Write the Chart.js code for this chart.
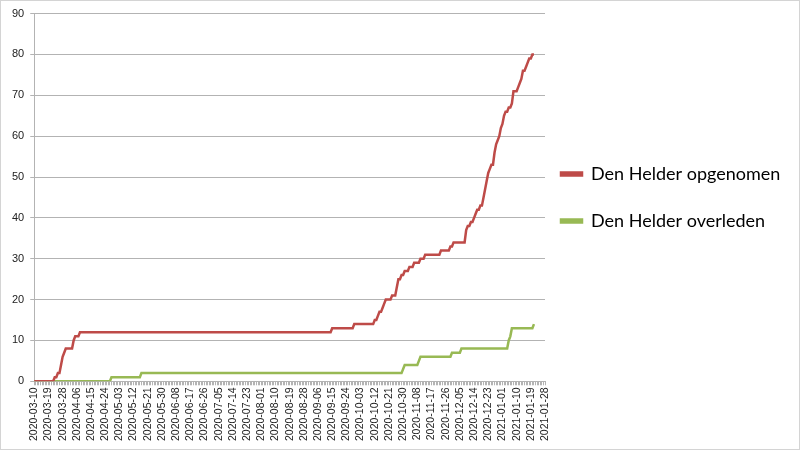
<!DOCTYPE html>
<html>
<head>
<meta charset="utf-8">
<script src="https://cdn.jsdelivr.net/npm/chart.js@4/dist/chart.umd.min.js"></script>
<style>
  html, body { margin: 0; padding: 0; background: #fff; }
  #wrap { width: 800px; height: 450px; box-sizing: border-box; border: 1px solid #d4d4d4; }
</style>
</head>
<body>
<div id="wrap"><canvas id="chart"></canvas></div>
<script>
// first and last day of the category axis
const firstDay = '2020-03-10';
const lastDay = '2021-01-28';

// labels that are printed under the axis (every 9th day)
const tickLabels = [
  '2020-03-10', '2020-03-19', '2020-03-28', '2020-04-06', '2020-04-15', '2020-04-24',
  '2020-05-03', '2020-05-12', '2020-05-21', '2020-05-30', '2020-06-08', '2020-06-17',
  '2020-06-26', '2020-07-05', '2020-07-14', '2020-07-23', '2020-08-01', '2020-08-10',
  '2020-08-19', '2020-08-28', '2020-09-06', '2020-09-15', '2020-09-24', '2020-10-03',
  '2020-10-12', '2020-10-21', '2020-10-30', '2020-11-08', '2020-11-17', '2020-11-26',
  '2020-12-05', '2020-12-14', '2020-12-23', '2021-01-01', '2021-01-10', '2021-01-19',
  '2021-01-28'
];

// cumulative counts per day, starting 2020-03-10 (10 values per row)
const opgenomen = [
  0, 0, 0, 0, 0, 0, 0, 0, 0, 0,
  0, 0, 0, 1, 1, 2, 2, 4, 6, 7,
  8, 8, 8, 8, 8, 10, 11, 11, 11, 12,
  12, 12, 12, 12, 12, 12, 12, 12, 12, 12,
  12, 12, 12, 12, 12, 12, 12, 12, 12, 12,
  12, 12, 12, 12, 12, 12, 12, 12, 12, 12,
  12, 12, 12, 12, 12, 12, 12, 12, 12, 12,
  12, 12, 12, 12, 12, 12, 12, 12, 12, 12,
  12, 12, 12, 12, 12, 12, 12, 12, 12, 12,
  12, 12, 12, 12, 12, 12, 12, 12, 12, 12,
  12, 12, 12, 12, 12, 12, 12, 12, 12, 12,
  12, 12, 12, 12, 12, 12, 12, 12, 12, 12,
  12, 12, 12, 12, 12, 12, 12, 12, 12, 12,
  12, 12, 12, 12, 12, 12, 12, 12, 12, 12,
  12, 12, 12, 12, 12, 12, 12, 12, 12, 12,
  12, 12, 12, 12, 12, 12, 12, 12, 12, 12,
  12, 12, 12, 12, 12, 12, 12, 12, 12, 12,
  12, 12, 12, 12, 12, 12, 12, 12, 12, 12,
  12, 12, 12, 12, 12, 12, 12, 12, 12, 13,
  13, 13, 13, 13, 13, 13, 13, 13, 13, 13,
  13, 13, 13, 14, 14, 14, 14, 14, 14, 14,
  14, 14, 14, 14, 14, 14, 15, 15, 16, 17,
  17, 18, 19, 20, 20, 20, 20, 21, 21, 21,
  23, 25, 25, 26, 26, 27, 27, 27, 28, 28,
  28, 29, 29, 29, 29, 30, 30, 30, 31, 31,
  31, 31, 31, 31, 31, 31, 31, 31, 32, 32,
  32, 32, 32, 32, 33, 33, 34, 34, 34, 34,
  34, 34, 34, 34, 37, 38, 38, 39, 39, 40,
  41, 42, 42, 43, 43, 45, 47, 49, 51, 52,
  53, 53, 56, 58, 59, 60, 62, 63, 65, 66,
  66, 67, 67, 68, 71, 71, 71, 72, 73, 74,
  76, 76, 77, 78, 79, 79, 80, 80
];

const overleden = [
  0, 0, 0, 0, 0, 0, 0, 0, 0, 0,
  0, 0, 0, 0, 0, 0, 0, 0, 0, 0,
  0, 0, 0, 0, 0, 0, 0, 0, 0, 0,
  0, 0, 0, 0, 0, 0, 0, 0, 0, 0,
  0, 0, 0, 0, 0, 0, 0, 0, 0, 1,
  1, 1, 1, 1, 1, 1, 1, 1, 1, 1,
  1, 1, 1, 1, 1, 1, 1, 1, 2, 2,
  2, 2, 2, 2, 2, 2, 2, 2, 2, 2,
  2, 2, 2, 2, 2, 2, 2, 2, 2, 2,
  2, 2, 2, 2, 2, 2, 2, 2, 2, 2,
  2, 2, 2, 2, 2, 2, 2, 2, 2, 2,
  2, 2, 2, 2, 2, 2, 2, 2, 2, 2,
  2, 2, 2, 2, 2, 2, 2, 2, 2, 2,
  2, 2, 2, 2, 2, 2, 2, 2, 2, 2,
  2, 2, 2, 2, 2, 2, 2, 2, 2, 2,
  2, 2, 2, 2, 2, 2, 2, 2, 2, 2,
  2, 2, 2, 2, 2, 2, 2, 2, 2, 2,
  2, 2, 2, 2, 2, 2, 2, 2, 2, 2,
  2, 2, 2, 2, 2, 2, 2, 2, 2, 2,
  2, 2, 2, 2, 2, 2, 2, 2, 2, 2,
  2, 2, 2, 2, 2, 2, 2, 2, 2, 2,
  2, 2, 2, 2, 2, 2, 2, 2, 2, 2,
  2, 2, 2, 2, 2, 2, 2, 2, 2, 2,
  2, 2, 2, 2, 3, 4, 4, 4, 4, 4,
  4, 4, 4, 4, 5, 6, 6, 6, 6, 6,
  6, 6, 6, 6, 6, 6, 6, 6, 6, 6,
  6, 6, 6, 6, 6, 7, 7, 7, 7, 7,
  7, 8, 8, 8, 8, 8, 8, 8, 8, 8,
  8, 8, 8, 8, 8, 8, 8, 8, 8, 8,
  8, 8, 8, 8, 8, 8, 8, 8, 8, 8,
  8, 10, 11, 13, 13, 13, 13, 13, 13, 13,
  13, 13, 13, 13, 13, 13, 13, 14
];

// one category per calendar day
const days = [];
for (let d = new Date(firstDay + 'T12:00:00Z'); d <= new Date(lastDay + 'T12:00:00Z'); d.setUTCDate(d.getUTCDate() + 1)) {
  days.push(d.toISOString().slice(0, 10));
}

const axisGrey = '#b3b3b3';

// pull the legend a bit closer to the plot, like the original
const legendNudge = {
  id: 'legendNudge',
  afterLayout(chart) {
    chart.legend.left -= 13;
    chart.legend.right -= 13;
  }
};

new Chart(document.getElementById('chart'), {
  type: 'line',
  data: {
    labels: days,
    datasets: [{
      label: 'Den Helder opgenomen',
      data: opgenomen,
      borderColor: '#be4b48',
      backgroundColor: '#be4b48',
      borderWidth: 2.5,
      pointRadius: 0,
      tension: 0
    }, {
      label: 'Den Helder overleden',
      data: overleden,
      borderColor: '#98b954',
      backgroundColor: '#98b954',
      borderWidth: 2.5,
      pointRadius: 0,
      tension: 0
    }]
  },
  plugins: [legendNudge],
  options: {
    responsive: true,
    maintainAspectRatio: false,
    animation: false,
    layout: { padding: { left: 5, top: 2, right: 4, bottom: 6 } },
    plugins: {
      tooltip: { enabled: false },
      legend: {
        position: 'right',
        fullSize: false,
        maxWidth: 250,
        labels: {
          color: '#000',
          font: { family: 'Lato', size: 18 },
          boxWidth: 21,
          boxHeight: 3,
          padding: 29
        }
      }
    },
    scales: {
      x: {
        offset: false,
        grid: { drawOnChartArea: false, drawTicks: true, tickLength: 4, color: axisGrey },
        border: { display: true, color: axisGrey },
        ticks: {
          autoSkip: false,
          maxRotation: 90,
          minRotation: 90,
          padding: 2,
          color: '#222',
          font: { family: 'Liberation Sans', size: 10.5 },
          callback: function (val) {
            const l = this.getLabelForValue(val);
            return tickLabels.includes(l) ? l : '';
          }
        }
      },
      y: {
        min: 0,
        max: 90,
        ticks: {
          stepSize: 10,
          padding: 6,
          color: '#222',
          font: { family: 'Liberation Sans', size: 11 }
        },
        grid: { color: axisGrey, tickLength: 4 },
        border: { display: true, color: axisGrey }
      }
    }
  }
});
</script>
</body>
</html>
